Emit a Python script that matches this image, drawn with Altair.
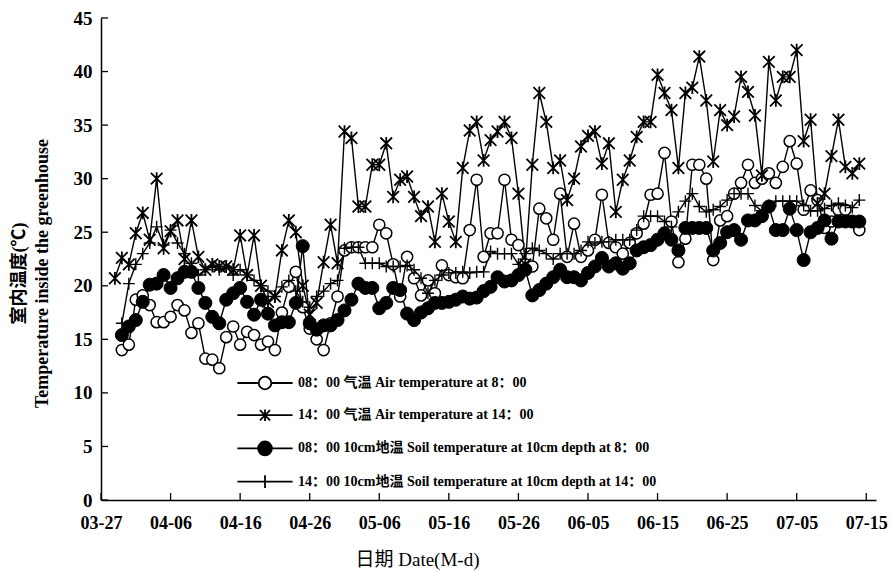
import json
import altair as alt
import pandas as pd

# ---------------- data ----------------
tick_labels = ["03-27", "04-06", "04-16", "04-26", "05-06", "05-16",
               "05-26", "06-05", "06-15", "06-25", "07-05", "07-15"]
tick_days = [0, 10, 20, 30, 40, 50, 60, 70, 80, 90, 100, 110]
y_ticks = [0, 5, 10, 15, 20, 25, 30, 35, 40, 45]

series_keys = ["air08", "air14", "soil08", "soil14"]
series_names = [
    "08：00 气温 Air temperature at 8：00",
    "14：00 气温 Air temperature at 14：00",
    "08：00 10cm地温 Soil temperature at 10cm depth at 8：00",
    "14：00 10cm地温 Soil temperature at 10cm depth at 14：00",
]
# first day of each series (days counted from 03-27)
first_day = [3, 2, 3, 3]

air_08 = [14.0, 14.5, 18.7, 19.1, 18.2, 16.6, 16.6, 17.1, 18.2, 17.7,
          15.6, 16.5, 13.2, 13.1, 12.3, 15.2, 16.2, 14.5, 15.7, 15.4,
          14.5, 14.8, 14.0, 17.5, 19.9, 21.3, 18.0, 16.0, 15.0, 14.0,
          16.5, 19.0, 23.3, 23.6, 23.6, 23.6, 23.6, 25.7, 24.9, 22.0,
          19.0, 22.7, 20.7, 19.1, 20.5, 19.3, 21.9, 21.0, 20.8, 20.7,
          25.2, 29.9, 22.7, 24.9, 24.9, 29.9, 24.3, 23.8, 22.0, 21.8,
          27.2, 26.3, 24.3, 28.6, 22.7, 25.8, 22.7, 23.3, 24.3, 28.5,
          24.0, 23.6, 23.0, 24.0, 24.9, 25.8, 28.5, 28.6, 32.4, 26.0,
          22.2, 24.4, 31.3, 31.3, 30.0, 22.4, 26.1, 26.5, 28.6, 29.6,
          31.3, 29.6, 30.0, 30.5, 29.6, 31.1, 33.5, 31.4, 27.1, 28.9,
          28.0, 25.4, 26.0, 27.1, 27.1, 26.0, 25.2]

air_14 = [20.7, 22.6, 22.0, 24.9, 26.8, 24.3, 30.0, 23.5, 25.1, 26.1,
          22.5, 26.1, 22.7, 21.5, 22.0, 21.8, 21.8, 21.5, 24.7, 21.0,
          24.7, 20.0, 18.5, 19.0, 23.3, 26.1, 25.0, 20.0, 17.3, 18.4,
          22.2, 25.7, 22.1, 34.4, 33.8, 27.4, 27.4, 31.3, 31.3, 33.3,
          28.3, 29.9, 30.2, 28.3, 26.5, 27.4, 24.1, 28.6, 26.0, 24.1,
          31.0, 34.5, 35.3, 31.7, 33.6, 34.4, 35.3, 33.8, 28.6, 22.0,
          31.3, 38.0, 35.3, 31.0, 31.7, 28.0, 30.0, 33.0, 34.0, 34.4,
          31.4, 33.3, 26.9, 29.9, 31.7, 33.9, 35.3, 35.3, 39.7, 38.0,
          36.4, 31.0, 38.0, 38.5, 41.4, 37.3, 31.6, 36.4, 35.0, 35.8,
          39.5, 38.1, 35.9, 30.3, 40.9, 37.3, 39.5, 39.5, 42.0, 33.5,
          35.5, 27.7, 28.6, 32.1, 35.5, 31.1, 30.5, 31.4]

soil_08 = [15.4, 16.2, 16.8, 18.5, 20.1, 20.2, 21.0, 19.8, 20.7, 21.3,
           21.3, 19.8, 18.4, 17.1, 16.5, 18.7, 19.3, 19.8, 18.5, 17.3,
           18.7, 17.4, 16.3, 16.6, 16.6, 18.4, 23.7, 16.5, 15.9, 16.3,
           16.3, 16.8, 17.7, 18.7, 20.2, 19.8, 19.8, 17.9, 18.4, 19.8,
           19.6, 17.4, 16.8, 17.5, 17.9, 18.4, 18.4, 18.5, 18.7, 19.0,
           18.8, 18.9, 19.5, 19.9, 20.8, 20.4, 20.5, 21.0, 21.5, 19.1,
           19.6, 20.2, 20.8, 21.5, 20.8, 20.8, 20.5, 21.2, 21.8, 22.6,
           21.8, 22.1, 21.6, 22.1, 23.3, 23.6, 23.8, 24.3, 24.9, 24.3,
           23.3, 25.4, 25.4, 25.4, 25.4, 23.3, 24.0, 25.0, 25.2, 24.3,
           26.1, 26.1, 26.5, 27.4, 25.2, 25.2, 27.2, 25.2, 22.4, 25.0,
           25.4, 26.1, 24.4, 26.0, 26.0, 26.0, 26.0]

soil_14 = [16.5, 20.2, 22.0, 23.0, 24.0, 25.5, 23.8, 25.2, 24.0, 23.0,
           22.1, 21.0, 21.5, 21.8, 21.5, 21.8, 21.0, 21.5, 21.0, 20.5,
           20.0, 19.5, 19.0, 19.9, 20.5, 19.5, 18.5, 18.0, 19.0, 19.5,
           20.2, 20.5, 23.5, 23.6, 23.6, 22.1, 22.1, 22.1, 21.8, 21.8,
           21.8, 21.9, 21.5, 20.7, 19.3, 20.5, 21.0, 21.2, 21.2, 21.3,
           21.2, 21.3, 21.3, 23.2, 23.0, 23.0, 23.0, 22.0, 23.0, 23.5,
           23.3, 23.0, 22.5, 23.0, 23.0, 23.0, 23.3, 24.1, 24.0, 24.1,
           24.1, 24.3, 24.3, 24.3, 25.2, 26.5, 26.5, 26.5, 26.0, 25.5,
           26.9, 27.9, 28.6, 27.4, 26.9, 27.1, 27.4, 28.0, 28.6, 28.6,
           28.6, 27.5, 27.0, 27.5, 27.9, 27.9, 27.9, 27.9, 27.5, 27.0,
           27.0, 27.2, 27.5, 27.7, 27.5, 27.3, 28.0]

# ---------------- table ----------------
rows = []
for key, name, start, vals in zip(series_keys, series_names, first_day,
                                  [air_08, air_14, soil_08, soil_14]):
    for i, v in enumerate(vals):
        rows.append({"day": start + i, "temp": v, "key": key, "series": name})
df = pd.DataFrame(rows)
ytick_df = pd.DataFrame({"t": y_ticks})
xtick_df = pd.DataFrame({"d": tick_days})

# ---------------- styling ----------------
SERIF = "Liberation Serif, Noto Sans CJK SC"
STAR = "M-1,-1L1,1M-1,1L1,-1M0,-1.1L0,1.1"
PLUS = "M-1,0L1,0M0,-1L0,1"

leg_paths = [
    "M-4.6,0L-1.05,0M1.05,0L4.6,0M-1.05,0A1.05,1.05,0,1,0,1.05,0A1.05,1.05,0,1,0,-1.05,0Z",
    "M-4.6,0L4.6,0M-0.85,-0.85L0.85,0.85M-0.85,0.85L0.85,-0.85M0,-0.95L0,0.95",
    "M-4.6,0L4.6,0M-1.15,0A1.15,1.15,0,1,0,1.15,0A1.15,1.15,0,1,0,-1.15,0Z",
    "M-4.6,0L4.6,0M0,-1.05L0,1.05",
]
leg_fills = ["white", "black", "black", "black"]
leg_strokes = ["black", "black", "black", "black"]

label_expr = json.dumps(tick_labels) + "[round(datum.value / 10)]"

x_scale = alt.Scale(domain=[0, 111.4], nice=False, zero=False)
y_scale = alt.Scale(domain=[0, 45], nice=False, zero=True)

x_axis = alt.Axis(values=tick_days, labelExpr=label_expr, title="日期 Date(M-d)",
                  ticks=False, grid=False, domainColor="black", domainWidth=1.5,
                  labelFont=SERIF, labelFontSize=18, labelFontWeight="bold",
                  labelColor="black", labelPadding=14, labelFlush=False,
                  labelOverlap=False, titleFont=SERIF, titleFontSize=19,
                  titleFontWeight="normal", titleColor="black", titlePadding=18,
                  titleX=316)
y_axis = alt.Axis(values=y_ticks, title=["室内温度(℃)", "Temperature inside the greenhouse"],
                  ticks=False, grid=False, domainColor="black", domainWidth=1.5,
                  labelFont=SERIF, labelFontSize=19, labelFontWeight="bold",
                  labelColor="black", labelPadding=9, labelOverlap=False,
                  titleFont=SERIF, titleFontSize=18, titleFontWeight="bold",
                  titleColor="black", titlePadding=22, titleLineHeight=23,
                  titleY=255)

base = alt.Chart(df).encode(
    x=alt.X("day:Q", scale=x_scale, axis=x_axis),
    y=alt.Y("temp:Q", scale=y_scale, axis=y_axis),
)

lines = base.mark_line(color="black", strokeWidth=1.4).encode(detail="key:N")

pts_air08 = base.transform_filter(alt.datum.key == "air08").mark_point(
    shape="circle", fill="white", stroke="black", strokeWidth=1.5, size=125, opacity=1)
pts_air14 = base.transform_filter(alt.datum.key == "air14").mark_point(
    shape=STAR, filled=False, stroke="black", strokeWidth=1.8, size=135, opacity=1)
pts_soil08 = base.transform_filter(alt.datum.key == "soil08").mark_point(
    shape="circle", fill="black", stroke="black", strokeWidth=1, size=170, opacity=1)
pts_soil14 = base.transform_filter(alt.datum.key == "soil14").mark_point(
    shape=PLUS, filled=False, stroke="black", strokeWidth=1.4, size=144, opacity=1)

legend_cfg = dict(orient="none", legendX=157, legendY=358, title=None, padding=0,
                  labelFont=SERIF, labelFontSize=14, labelFontWeight="bold",
                  labelColor="black", labelLimit=0, labelOffset=26, rowPadding=12.2,
                  symbolStrokeColor="black", symbolStrokeWidth=1.8, symbolSize=144,
                  symbolOpacity=1)

legend_layer = alt.Chart(df).transform_filter("datum.temp < -100").mark_point(
    size=144, filled=True, strokeWidth=1.8, opacity=1).encode(
    x=alt.X("day:Q", scale=x_scale),
    y=alt.Y("temp:Q", scale=y_scale),
    shape=alt.Shape("series:N", scale=alt.Scale(domain=series_names, range=leg_paths),
                    legend=alt.Legend(**legend_cfg)),
    fill=alt.Fill("series:N", scale=alt.Scale(domain=series_names, range=leg_fills),
                  legend=alt.Legend(**legend_cfg)),
    stroke=alt.Stroke("series:N", scale=alt.Scale(domain=series_names, range=leg_strokes),
                      legend=alt.Legend(**legend_cfg)),
)

ytick_layer = alt.Chart(ytick_df).mark_rule(color="black", strokeWidth=1.3).encode(
    y=alt.Y("t:Q", scale=y_scale), x=alt.value(0), x2=alt.value(7))
xtick_layer = alt.Chart(xtick_df).mark_rule(color="black", strokeWidth=1.3).encode(
    x=alt.X("d:Q", scale=x_scale), y=alt.value(482), y2=alt.value(475))

chart = alt.layer(
    lines, pts_air08, pts_air14, pts_soil08, pts_soil14,
    ytick_layer, xtick_layer, legend_layer,
).properties(
    width=775, height=482,
    padding={"left": 101, "top": 18, "right": 15, "bottom": 72},
    autosize=alt.AutoSizeParams(type="none"),
    background="white",
).configure_view(stroke=None)

chart.save("out.html", embed_options={"renderer": "svg", "actions": False})
